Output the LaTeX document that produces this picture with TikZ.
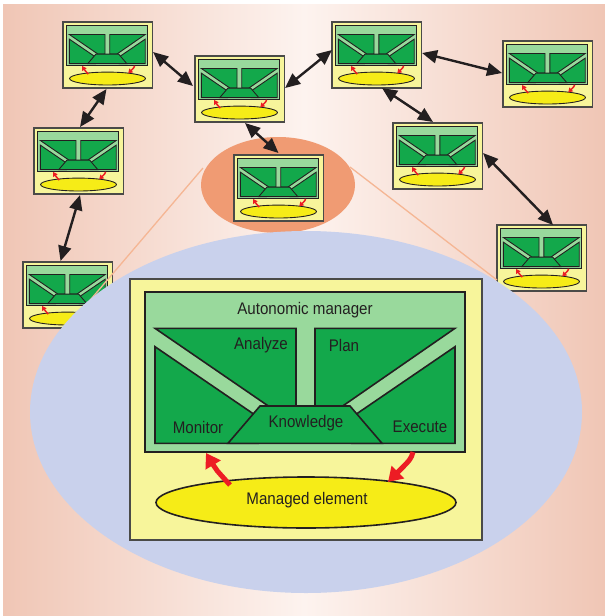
\documentclass[tikz,border=0pt]{standalone}
\usepackage{fontspec}
\setmainfont{Liberation Sans}[FakeStretch=0.9]
\usetikzlibrary{arrows.meta,calc}
\definecolor{bgedge}{HTML}{F0C6B5}
\definecolor{bgmid}{HTML}{FDF3EF}
\definecolor{zoomorange}{HTML}{F09B73}
\definecolor{zoomblue}{HTML}{C9D1EC}
\definecolor{coneline}{HTML}{F5B694}
\definecolor{panelyellow}{HTML}{F7F59B}
\definecolor{elyellow}{HTML}{F6EC17}
\definecolor{lightgreen}{HTML}{99D99C}
\definecolor{darkgreen}{HTML}{13A84B}
\definecolor{inkdark}{HTML}{231F20}
\definecolor{boxgray}{HTML}{4A4A48}
\definecolor{arrowred}{HTML}{ED1C24}
\tikzset{
  modbox/.style={rectangle, draw=boxgray, fill=panelyellow, inner sep=0pt, outer sep=0pt},
  greenpart/.style={fill=darkgreen, draw=inkdark, line join=miter},
  redarrow/.style={draw=arrowred, -{Triangle[length=0pt 2.8, width=0pt 3.4]}},
  biarrow/.style={draw=inkdark, line width=2.4pt,
    {Triangle[length=15pt,width=13pt]}-{Triangle[length=15pt,width=13pt]}},
  label/.style={text=inkdark, inner sep=0pt, font=\fontsize{16.8}{20}\selectfont},
}
% #1 name, #2 x, #3 y, #4 scale, #5 border factor, #6 red factor
\newcommand\drawmodule[6]{%
  \node[modbox, line width=#5*2pt, minimum width=#4*352pt, minimum height=#4*261pt,
        anchor=north west] (#1) at (#2,#3) {};
  \begin{scope}[shift={(#2,#3)}, scale=#4]
    \draw[fill=lightgreen, draw=inkdark, line width=#5*2pt] (15,12.7) rectangle (335,173.3);
    \filldraw[greenpart, line width=#5*1.6pt] (25,49.3) -- (166,49.3) -- (166,127) -- (138.3,127) -- cycle;
    \filldraw[greenpart, line width=#5*1.6pt] (185,49.3) -- (325,49.3) -- (212.7,127) -- (185,127) -- cycle;
    \filldraw[greenpart, line width=#5*1.6pt] (25,67.7) -- (128,138) -- (128,164.3) -- (25,164.3) -- cycle;
    \filldraw[greenpart, line width=#5*1.6pt] (325,67.7) -- (222,138) -- (222,164.3) -- (325,164.3) -- cycle;
    \filldraw[greenpart, line width=#5*1.6pt] (130,127) -- (220,127) -- (252,164.3) -- (98,164.3) -- cycle;
    \draw[fill=elyellow, draw=inkdark, line width=#5*1.6pt] (176,223.5) ellipse [x radius=150, y radius=25.5];
    \draw[redarrow, line width=#6*5pt] (100,206) .. controls (85.9,190.5) .. (76,174);
    \draw[redarrow, line width=#6*5pt] (283,173) .. controls (280.9,180.1) .. (258,203);
  \end{scope}
}
\begin{document}
\begin{tikzpicture}[x=1pt, y=-1pt]
  \useasboundingbox (0,0) rectangle (605,616);
  \fill[white] (0,0) rectangle (605,616);
  \shade[left color=bgedge, right color=bgedge, middle color=bgmid] (3,4) rectangle (605,616);
  % zoom source
  \fill[zoomorange] (278,185) ellipse [x radius=77, y radius=48];
  % small modules
  \drawmodule{m1}{63}{22}{0.253}{0.55}{0.3}
  \drawmodule{m2}{195}{56}{0.253}{0.55}{0.3}
  \drawmodule{m3}{34}{128}{0.253}{0.55}{0.3}
  \drawmodule{mc}{234}{155}{0.253}{0.55}{0.3}
  \drawmodule{m4}{332}{22}{0.253}{0.55}{0.3}
  \drawmodule{m5}{503}{41}{0.253}{0.55}{0.3}
  \drawmodule{m6}{393}{123}{0.253}{0.55}{0.3}
  \drawmodule{m7}{497}{225}{0.253}{0.55}{0.3}
  \drawmodule{m8}{23}{262}{0.253}{0.55}{0.3}
  % links
  \draw[biarrow] ($(m1.east)+(1,-3)$) -- ($(m2.west)+(-2,-3)$);
  \draw[biarrow] ($(m1.south)+(-1,1)$) -- ($(m3.north)+(1.5,-1)$);
  \draw[biarrow] ($(m2.south)+(5.5,1)$) -- ($(mc.north)+(0,-2)$);
  \draw[biarrow] ($(m2.east)+(1,-1)$) -- ($(m4.west)+(0,-5)$);
  \draw[biarrow] ($(m4.east)+(1,-2)$) -- ($(m5.west)+(-1,-1)$);
  \draw[biarrow] ($(m4.south)+(5.5,0)$) -- ($(m6.north)+(-4.5,-1)$);
  \draw[biarrow] ($(m6.east)+(1,-3)$) -- ($(m7.north)+(11.5,0)$);
  \draw[biarrow] ($(m3.south)+(1.5,1)$) -- ($(m8.north)+(-7,-1)$);
  % zoom cone
  \draw[coneline, line width=1.3pt] (203,168) -- (80,312);
  \draw[coneline, line width=1.3pt] (350,167) -- (497,280);
  \fill[zoomblue] (306,412) ellipse [x radius=276, y radius=181];
  % large autonomic element
  \drawmodule{am}{130}{279}{1}{1}{1}
  \node[label] (tam) at (305,310) {Autonomic manager};
  \node[label] (tan) at (261,345) {Analyze};
  \node[label] (tpl) at (344,345) {Plan};
  \node[label] (tmo) at (198,427) {Monitor};
  \node[label] (tkn) at (306,423) {Knowledge};
  \node[label] (tex) at (420,427) {Execute};
  \node[label] (tme) at (307,500) {Managed element};
\end{tikzpicture}
\end{document}
